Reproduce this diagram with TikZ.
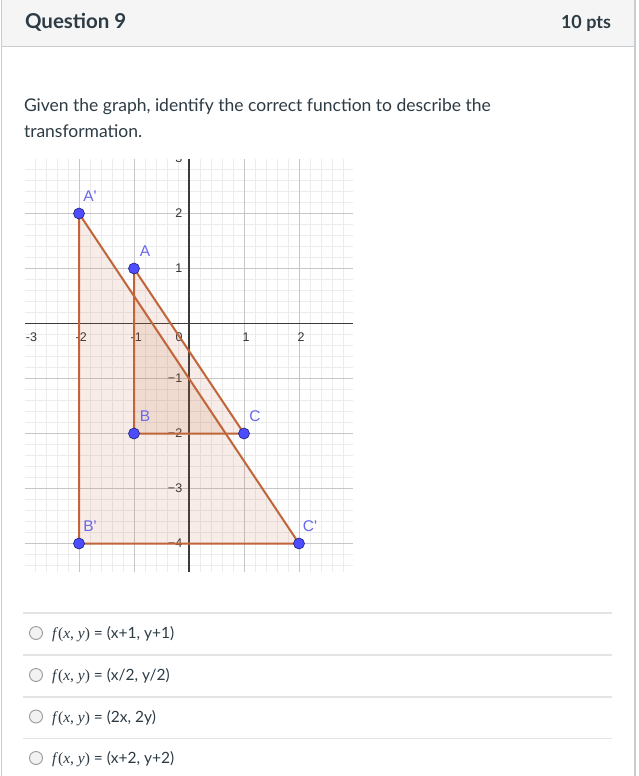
\documentclass[tikz,border=0pt]{standalone}
\usepackage{fontspec}
\setmainfont{Lato}
\newfontfamily\ggfont{Liberation Sans}
\newfontfamily\serifit{Liberation Serif}
\definecolor{txt}{HTML}{2D3B45}
\definecolor{bord}{HTML}{C7CDD1}
\definecolor{hdr}{HTML}{F5F5F5}
\definecolor{sep}{HTML}{E4E4E4}
\definecolor{gminor}{HTML}{ECECEC}
\definecolor{gmajor}{HTML}{C6C6C6}
\definecolor{axiscol}{HTML}{3A3A3A}
\definecolor{edge}{RGB}{192,100,58}
\definecolor{ptblue}{RGB}{77,77,255}
\definecolor{ptline}{RGB}{30,30,120}
\definecolor{lblblue}{RGB}{105,105,235}
\definecolor{radiofill}{HTML}{F2F2F2}
\definecolor{radioline}{HTML}{9A9A9A}
\newcommand{\fxy}{{\serifit\textit{f}(\textit{x}, \textit{y})}}
\tikzset{
  plaintext/.style={inner sep=0pt, outer sep=0pt, text=txt},
  bodytext/.style={plaintext, anchor=base west, font=\fontsize{17.5}{21}\selectfont},
  opttext/.style={plaintext, anchor=base west, font=\fontsize{15.5}{18}\selectfont},
  radio/.style={circle, draw=radioline, fill=radiofill, line width=0.9pt, minimum size=13pt, inner sep=0pt},
  sepline/.style={draw=sep, line width=1.2pt},
  axlabel/.style={inner sep=0pt, text=black!80, font=\ggfont\fontsize{12.5}{14}\selectfont},
  ptlabel/.style={inner sep=0pt, text=lblblue, font=\ggfont\fontsize{15.5}{17}\selectfont},
  pt/.style={circle, fill=ptblue, draw=ptline, line width=0.6pt, minimum size=11pt, inner sep=0pt},
  trifill/.style={fill=edge, fill opacity=0.12},
  triedge/.style={draw=edge, line width=2pt, line join=round},
}
\begin{document}
\begin{tikzpicture}[x=1pt,y=-1pt]
\useasboundingbox (0,0) rectangle (638,776);
\fill[white] (0,0) rectangle (638,776);
% header
\fill[hdr] (2,0) rectangle (635,46);
\draw[bord, line width=1.2pt] (2,46.5) -- (635,46.5);
\draw[bord, line width=1.2pt] (1.5,0) -- (1.5,776);
\draw[bord, line width=1.2pt] (635,0) -- (635,776);
\node[plaintext, anchor=base west, font=\bfseries\fontsize{20.5}{24}\selectfont] (qtitle) at (25,29) {Question 9};
\node[plaintext, anchor=base east, font=\bfseries\fontsize{18}{22}\selectfont] (pts) at (611,29) {10 pts};
% question text
\node[bodytext] (q1) at (24,111.5) {Given the graph, identify the correct function to describe the};
\node[bodytext] (q2) at (24,137.5) {transformation.};
% graph
\begin{scope}[shift={(189,323.5)}, x=55pt, y=55pt]
  \begin{scope}
    \clip (-2.98,-4.51) rectangle (2.98,2.99);
    \fill[white] (-2.98,-4.51) rectangle (2.98,2.99);
    \draw[gminor, line width=0.6pt] (-3.2,-4.8) grid[step=0.2] (3.2,3.2);
    \draw[gmajor, line width=1pt] (-3.2,-5) grid[step=1] (3.2,3.2);
    \draw[axiscol, line width=1.1pt] (-3,0) -- (3,0);
    \draw[axiscol, line width=1.1pt] (0,-4.6) -- (0,3.1);
    % axis numbers
    \node[axlabel, anchor=west] (xlm3) at (-2.97,-0.24) {-3};
    \foreach \v/\t in {-2/-2,-1/-1,1/1,2/2,3/3}
      \node[axlabel] (xl\v) at (\v+0.04,-0.24) {\t};
    \node[axlabel] (xl0) at (-0.18,-0.24) {0};
    \foreach \v/\t in {3/3,2/2,1/1,-1/−1,-2/−2,-3/−3,-4/−4}
      \node[axlabel, anchor=east] (yl\v) at (-0.12,\v) {\t};
  \end{scope}
  % points
  \coordinate (Ap) at (-2,2);
  \coordinate (Bp) at (-2,-4);
  \coordinate (Cp) at (2,-4);
  \coordinate (A) at (-1,1);
  \coordinate (B) at (-1,-2);
  \coordinate (C) at (1,-2);
  \fill[trifill] (Ap) -- (Bp) -- (Cp) -- cycle;
  \fill[trifill] (A) -- (B) -- (C) -- cycle;
  \draw[triedge] (Ap) -- (Bp) -- (Cp) -- cycle;
  \draw[triedge] (A) -- (B) -- (C) -- cycle;
  \node[pt] (nAp) at (Ap) {};
  \node[pt] (nBp) at (Bp) {};
  \node[pt] (nCp) at (Cp) {};
  \node[pt] (nA) at (A) {};
  \node[pt] (nB) at (B) {};
  \node[pt] (nC) at (C) {};
  \node[ptlabel] (lAp) at (-1.8,2.31) {A'};
  \node[ptlabel] (lA) at (-0.8,1.31) {A};
  \node[ptlabel] (lB) at (-0.8,-1.69) {B};
  \node[ptlabel] (lC) at (1.2,-1.69) {C};
  \node[ptlabel] (lBp) at (-1.8,-3.69) {B'};
  \node[ptlabel] (lCp) at (2.2,-3.69) {C'};
\end{scope}
% options
\draw[sepline] (23,613) -- (612,613);
\draw[sepline] (23,655) -- (612,655);
\draw[sepline] (23,697) -- (612,697);
\draw[sepline] (23,738.5) -- (612,738.5);
\node[radio] (r1) at (36,633) {};
\node[radio] (r2) at (36,675) {};
\node[radio] (r3) at (36,716.5) {};
\node[radio] (r4) at (36,758) {};
\node[opttext] (o1) at (52,638.5) {\fxy{} = (x+1, y+1)};
\node[opttext] (o2) at (52,680.5) {\fxy{} = (x/2, y/2)};
\node[opttext] (o3) at (52,722) {\fxy{} = (2x, 2y)};
\node[opttext] (o4) at (52,763.5) {\fxy{} = (x+2, y+2)};
\end{tikzpicture}
\end{document}
